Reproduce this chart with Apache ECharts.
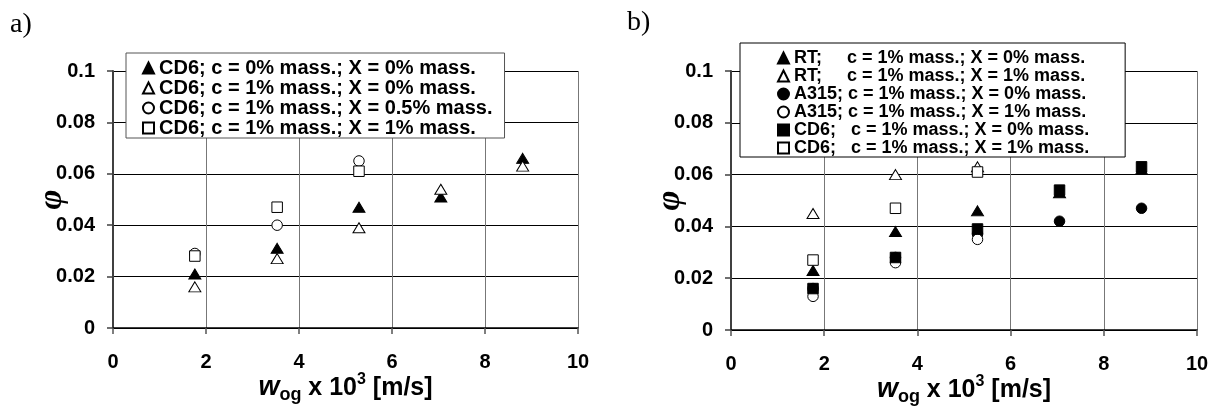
<!DOCTYPE html>
<html>
<head>
<meta charset="utf-8">
<script src="https://cdn.jsdelivr.net/npm/echarts@6/dist/echarts.min.js"></script>
<style>
html,body{margin:0;padding:0;background:#fff;}
#chart{width:1216px;height:406px;}
</style>
</head>
<body>
<div id="chart"></div>
<script>
// ---- data ----
const xVals = [1.76, 3.53, 5.29, 7.05, 8.81];
const xTicks = [0, 2, 4, 6, 8, 10];
const yTicks = [0, 0.02, 0.04, 0.06, 0.08, 0.1];

// panel a)
const aNames = [
  'CD6; c = 0% mass.; X = 0% mass.',
  'CD6; c = 1% mass.; X = 0% mass.',
  'CD6; c = 1% mass.; X = 0.5% mass.',
  'CD6; c = 1% mass.; X = 1% mass.'
];
const aFilledTri = [0.021, 0.031, 0.047, 0.051, 0.066];
const aHollowTri = [0.016, 0.027, 0.039, 0.054, 0.063];
const aCircle    = [0.029, 0.040, 0.065];
const aSquare    = [0.028, 0.047, 0.061];

// panel b)
const bNames = [
  'RT;     c = 1% mass.; X = 0% mass.',
  'RT;     c = 1% mass.; X = 1% mass.',
  'A315; c = 1% mass.; X = 0% mass.',
  'A315; c = 1% mass.; X = 1% mass.',
  'CD6;   c = 1% mass.; X = 0% mass.',
  'CD6;   c = 1% mass.; X = 1% mass.'
];
const bRTFilled    = [0.023, 0.038, 0.046, 0.053, 0.062];
const bRTHollow    = [0.045, 0.060, 0.063];
const bA315Filled  = [0.016, 0.028, 0.037, 0.042, 0.047];
const bA315Hollow  = [0.013, 0.026, 0.035];
const bCD6Filled   = [0.016, 0.028, 0.039, 0.054, 0.063];
const bCD6Hollow   = [0.027, 0.047, 0.061];

// ---- helpers ----
const pts = ys => ys.map((y, i) => [xVals[i], y]);
const FONT = 'Liberation Sans, Arial, sans-serif';
const filled = {color: '#000', borderColor: '#000', borderWidth: 1, opacity: 1};
const hollow = {color: '#fff', borderColor: '#000', borderWidth: 1, opacity: 1};
function sc(name, ys, symbol, style, idx) {
  const size = symbol === 'triangle' ? [12, 10] : 10.5;
  return {
    name: name, type: 'scatter', xAxisIndex: idx, yAxisIndex: idx,
    symbol: symbol, symbolSize: size, itemStyle: style,
    data: pts(ys), animation: false, emphasis: {disabled: true}
  };
}

function xAxisCfg(idx) {
  return {
    gridIndex: idx, type: 'value', min: 0, max: 10, interval: 2,
    axisLine: {show: true, onZero: false, lineStyle: {color: '#000', width: 1.5}},
    axisTick: {show: true, length: 6, lineStyle: {color: '#555', width: 1.5}},
    axisLabel: {margin: 24, fontFamily: FONT, fontWeight: 'bold', fontSize: 20, color: '#000'},
    splitLine: {show: true, lineStyle: {color: '#777', width: 1}},
    name: '{w|w}{sub|og}{t| x 10}{sup|3}{t| [m/s]}',
    nameLocation: 'middle', nameGap: 44, nameMoveOverlap: false,
    nameTextStyle: {
      rich: {
        w: {fontFamily: FONT, fontStyle: 'italic', fontWeight: 'bold', fontSize: 27, lineHeight: 32, color: '#000'},
        sub: {fontFamily: FONT, fontWeight: 'bold', fontSize: 18, lineHeight: 13, verticalAlign: 'bottom', color: '#000'},
        t: {fontFamily: FONT, fontWeight: 'bold', fontSize: 25, lineHeight: 32, color: '#000'},
        sup: {fontFamily: FONT, fontWeight: 'bold', fontSize: 16, lineHeight: 20, verticalAlign: 'top', color: '#000'}
      }
    }
  };
}
function yAxisCfg(idx) {
  return {
    gridIndex: idx, type: 'value', min: 0, max: 0.1, interval: 0.02,
    axisLine: {show: true, lineStyle: {color: '#404040', width: 2}},
    axisTick: {show: true, length: 6, lineStyle: {color: '#404040', width: 1.5}},
    axisLabel: {margin: 18, fontFamily: FONT, fontWeight: 'bold', fontSize: 20, color: '#000'},
    splitLine: {show: true, lineStyle: {color: '#000', width: 1}},
    name: 'φ', nameLocation: 'middle', nameRotate: 90, nameGap: 44, nameMoveOverlap: false,
    nameTextStyle: {fontFamily: 'Liberation Serif, serif', fontStyle: 'italic', fontWeight: 'bold', fontSize: 34, color: '#000'}
  };
}

const chart = echarts.init(document.getElementById('chart'), null, {renderer: 'canvas'});
chart.setOption({
  backgroundColor: '#fff',
  animation: false,
  title: [
    {text: 'a)', left: 10, top: 11, padding: 0, textStyle: {fontFamily: 'Liberation Serif, serif', fontSize: 28, fontWeight: 'normal', color: '#000'}},
    {text: 'b)', left: 627, top: 9, padding: 0, textStyle: {fontFamily: 'Liberation Serif, serif', fontSize: 28, fontWeight: 'normal', color: '#000'}}
  ],
  grid: [
    {left: 113, right: 638, top: 71, bottom: 78, containLabel: false, outerBoundsMode: 'none'},
    {left: 731, right: 19, top: 71, bottom: 76, containLabel: false, outerBoundsMode: 'none'}
  ],
  xAxis: [xAxisCfg(0), xAxisCfg(1)],
  yAxis: [yAxisCfg(0), yAxisCfg(1)],
  legend: [
    {
      data: aNames, orient: 'vertical', align: 'left', left: 126, top: 53,
      padding: [5, 12, 0, 16], itemGap: 0, itemWidth: 11, itemHeight: 11,
      backgroundColor: '#fff', borderColor: '#555', borderWidth: 1,
      selectedMode: false,
      textStyle: {fontFamily: FONT, fontWeight: 'bold', fontSize: 20, lineHeight: 20, color: '#000'}
    },
    {
      data: bNames, orient: 'vertical', align: 'left', left: 740, top: 43,
      padding: [6, 36, 0, 37], itemGap: 0, itemWidth: 11, itemHeight: 11,
      backgroundColor: '#fff', borderColor: '#000', borderWidth: 1,
      selectedMode: false,
      textStyle: {fontFamily: FONT, fontWeight: 'bold', fontSize: 18, lineHeight: 17, color: '#000'}
    }
  ],
  series: [
    sc(aNames[0], aFilledTri, 'triangle', filled, 0),
    sc(aNames[1], aHollowTri, 'triangle', hollow, 0),
    sc(aNames[2], aCircle, 'circle', hollow, 0),
    sc(aNames[3], aSquare, 'rect', hollow, 0),
    sc(bNames[0], bRTFilled, 'triangle', filled, 1),
    sc(bNames[1], bRTHollow, 'triangle', hollow, 1),
    sc(bNames[2], bA315Filled, 'circle', filled, 1),
    sc(bNames[3], bA315Hollow, 'circle', hollow, 1),
    sc(bNames[4], bCD6Filled, 'rect', filled, 1),
    sc(bNames[5], bCD6Hollow, 'rect', hollow, 1)
  ]
});
</script>
</body>
</html>
